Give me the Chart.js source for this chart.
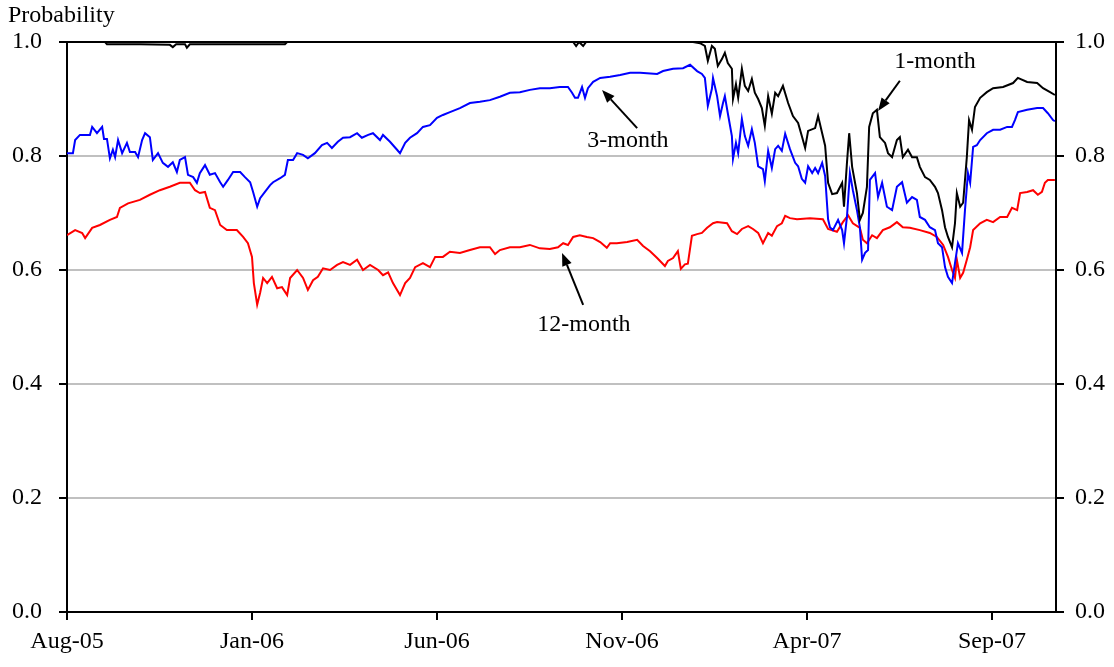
<!DOCTYPE html>
<html>
<head>
<meta charset="utf-8">
<script src="https://cdn.jsdelivr.net/npm/chart.js@4.4.1/dist/chart.umd.min.js"></script>
<style>
html, body { margin: 0; padding: 0; background: #fff; }
canvas { display: block; }
</style>
</head>
<body>
<canvas id="c" width="1114" height="667"></canvas>
<script>
// x values are months since the start of Aug 2005
const tickMonths = [0, 5, 10, 15, 20, 25];
const tickLabels = ['Aug-05', 'Jan-06', 'Jun-06', 'Nov-06', 'Apr-07', 'Sep-07'];

// 1-month
const months1 = [0, 1.03, 1.08, 1.97, 2.78, 2.86, 2.95, 3.19, 3.24, 3.32, 4.41, 5.89, 5.95, 13.68, 13.76, 13.84, 13.95, 14.03, 16.92, 17.11,
    17.24, 17.32, 17.43, 17.51, 17.59, 17.70, 17.78, 17.86, 17.97, 18.00, 18.08, 18.14, 18.24, 18.32, 18.41, 18.51, 18.59, 18.68, 18.78, 18.86,
    18.95, 19.05, 19.14, 19.22, 19.35, 19.49, 19.62, 19.76, 19.86, 19.95, 20.03, 20.22, 20.30, 20.41, 20.49, 20.57, 20.68, 20.81, 20.95, 21.00,
    21.08, 21.14, 21.22, 21.35, 21.43, 21.51, 21.62, 21.68, 21.78, 21.89, 21.97, 22.11, 22.19, 22.30, 22.43, 22.51, 22.59, 22.73, 22.84, 22.97,
    23.05, 23.19, 23.32, 23.46, 23.54, 23.65, 23.73, 23.81, 23.92, 24.00, 24.05, 24.14, 24.22, 24.32, 24.38, 24.46, 24.54, 24.68, 24.86, 25.03,
    25.30, 25.57, 25.70, 25.95, 26.22, 26.38, 26.57, 26.70];
const prob1 = [1, 1, 0.996, 0.996, 0.995, 0.991, 0.996, 0.996, 0.990, 0.996, 0.996, 0.996, 1, 1, 0.993, 1, 0.993, 1, 1, 0.998,
    0.993, 0.967, 0.993, 0.988, 0.958, 0.970, 0.981, 0.963, 0.953, 0.900, 0.926, 0.902, 0.953, 0.923, 0.914, 0.935, 0.911, 0.900, 0.884, 0.853,
    0.905, 0.874, 0.911, 0.905, 0.923, 0.893, 0.870, 0.858, 0.835, 0.814, 0.844, 0.849, 0.870, 0.840, 0.818, 0.753, 0.733, 0.735, 0.753, 0.711,
    0.788, 0.840, 0.781, 0.735, 0.688, 0.700, 0.746, 0.851, 0.875, 0.881, 0.833, 0.823, 0.805, 0.798, 0.828, 0.833, 0.798, 0.811, 0.798, 0.798,
    0.781, 0.763, 0.758, 0.746, 0.735, 0.705, 0.675, 0.658, 0.640, 0.682, 0.735, 0.711, 0.718, 0.798, 0.863, 0.846, 0.886, 0.902, 0.912, 0.919,
    0.921, 0.928, 0.937, 0.930, 0.928, 0.919, 0.912, 0.907];

// 3-month
const months3 = [0, 0.16, 0.22, 0.35, 0.62, 0.68, 0.81, 0.95, 1.00, 1.08, 1.16, 1.24, 1.30, 1.38, 1.49, 1.62, 1.70, 1.84, 1.92, 2.03,
    2.11, 2.24, 2.32, 2.46, 2.59, 2.73, 2.86, 2.97, 3.05, 3.19, 3.27, 3.41, 3.51, 3.59, 3.73, 3.86, 4.00, 4.14, 4.22, 4.35,
    4.49, 4.68, 4.81, 4.95, 5.03, 5.14, 5.22, 5.35, 5.49, 5.57, 5.76, 5.89, 5.97, 6.11, 6.22, 6.38, 6.51, 6.70, 6.89, 7.03,
    7.16, 7.32, 7.46, 7.65, 7.84, 7.97, 8.14, 8.27, 8.46, 8.54, 8.73, 8.92, 9.00, 9.14, 9.27, 9.46, 9.62, 9.81, 10.00, 10.16,
    10.35, 10.62, 10.89, 11.16, 11.43, 11.70, 11.97, 12.24, 12.51, 12.78, 13.05, 13.32, 13.54, 13.65, 13.73, 13.81, 13.92, 14.00, 14.08, 14.22,
    14.41, 14.68, 14.95, 15.22, 15.49, 15.95, 16.11, 16.38, 16.65, 16.84, 17.03, 17.16, 17.24, 17.32, 17.43, 17.46, 17.57, 17.65, 17.73, 17.78,
    17.86, 17.97, 18.00, 18.08, 18.14, 18.24, 18.32, 18.41, 18.51, 18.59, 18.68, 18.81, 18.86, 18.95, 19.05, 19.14, 19.22, 19.32, 19.41, 19.54,
    19.68, 19.76, 19.86, 19.95, 20.03, 20.14, 20.22, 20.30, 20.41, 20.49, 20.57, 20.62, 20.70, 20.84, 20.95, 21.00, 21.08, 21.16, 21.24, 21.35,
    21.43, 21.49, 21.57, 21.65, 21.70, 21.84, 21.92, 22.03, 22.16, 22.30, 22.43, 22.57, 22.70, 22.84, 22.97, 23.05, 23.19, 23.32, 23.46, 23.54,
    23.65, 23.73, 23.81, 23.92, 24.00, 24.08, 24.19, 24.27, 24.35, 24.41, 24.49, 24.59, 24.68, 24.86, 25.03, 25.22, 25.41, 25.54, 25.62, 25.70,
    25.95, 26.22, 26.38, 26.51, 26.65, 26.70];
const prob3 = [0.805, 0.805, 0.828, 0.837, 0.837, 0.851, 0.840, 0.851, 0.830, 0.830, 0.796, 0.811, 0.798, 0.828, 0.805, 0.823, 0.807, 0.807, 0.798, 0.828,
    0.840, 0.833, 0.793, 0.805, 0.788, 0.781, 0.789, 0.772, 0.793, 0.798, 0.767, 0.763, 0.753, 0.770, 0.784, 0.767, 0.770, 0.754, 0.746, 0.758,
    0.772, 0.772, 0.763, 0.754, 0.737, 0.711, 0.726, 0.737, 0.749, 0.754, 0.761, 0.767, 0.793, 0.793, 0.805, 0.802, 0.796, 0.805, 0.819, 0.823,
    0.814, 0.825, 0.832, 0.833, 0.840, 0.832, 0.837, 0.840, 0.828, 0.837, 0.825, 0.811, 0.805, 0.823, 0.832, 0.840, 0.851, 0.854, 0.867, 0.872,
    0.877, 0.884, 0.893, 0.895, 0.898, 0.904, 0.911, 0.912, 0.916, 0.919, 0.919, 0.921, 0.921, 0.911, 0.902, 0.902, 0.921, 0.902, 0.919, 0.930,
    0.937, 0.939, 0.942, 0.946, 0.946, 0.944, 0.949, 0.953, 0.954, 0.960, 0.949, 0.944, 0.937, 0.888, 0.918, 0.937, 0.905, 0.870, 0.893, 0.905,
    0.875, 0.835, 0.795, 0.823, 0.805, 0.865, 0.835, 0.818, 0.847, 0.823, 0.782, 0.777, 0.756, 0.809, 0.779, 0.812, 0.818, 0.809, 0.839, 0.812,
    0.788, 0.782, 0.760, 0.753, 0.782, 0.770, 0.779, 0.770, 0.788, 0.765, 0.689, 0.675, 0.670, 0.688, 0.670, 0.647, 0.693, 0.770, 0.740, 0.705,
    0.675, 0.618, 0.630, 0.635, 0.758, 0.770, 0.728, 0.753, 0.711, 0.705, 0.746, 0.754, 0.718, 0.728, 0.723, 0.693, 0.688, 0.675, 0.670, 0.647,
    0.640, 0.605, 0.588, 0.577, 0.612, 0.647, 0.630, 0.705, 0.770, 0.753, 0.816, 0.819, 0.828, 0.840, 0.846, 0.846, 0.851, 0.851, 0.863, 0.877,
    0.881, 0.884, 0.884, 0.875, 0.863, 0.861];

// 12-month
const months12 = [0, 0.22, 0.41, 0.49, 0.68, 0.89, 1.16, 1.35, 1.43, 1.65, 1.97, 2.24, 2.51, 2.78, 3.05, 3.32, 3.46, 3.59, 3.73, 3.86,
    4.00, 4.14, 4.32, 4.59, 4.76, 4.89, 5.00, 5.05, 5.14, 5.22, 5.30, 5.41, 5.54, 5.68, 5.81, 5.95, 6.03, 6.22, 6.38, 6.51,
    6.65, 6.78, 6.92, 7.11, 7.30, 7.46, 7.65, 7.84, 8.00, 8.19, 8.41, 8.54, 8.68, 8.81, 9.00, 9.14, 9.27, 9.41, 9.62, 9.81,
    9.95, 10.16, 10.35, 10.62, 10.89, 11.16, 11.43, 11.57, 11.70, 11.97, 12.24, 12.51, 12.78, 13.05, 13.27, 13.41, 13.54, 13.68, 13.86, 14.05,
    14.22, 14.41, 14.59, 14.68, 14.86, 15.14, 15.41, 15.57, 15.76, 15.95, 16.16, 16.24, 16.38, 16.51, 16.59, 16.70, 16.78, 16.89, 17.03, 17.16,
    17.30, 17.46, 17.57, 17.84, 17.97, 18.11, 18.24, 18.41, 18.54, 18.68, 18.81, 18.95, 19.05, 19.19, 19.32, 19.41, 19.54, 19.73, 20.08, 20.43,
    20.57, 20.81, 20.97, 21.11, 21.24, 21.43, 21.51, 21.62, 21.76, 21.89, 22.05, 22.24, 22.43, 22.59, 22.78, 23.05, 23.32, 23.51, 23.68, 23.81,
    23.92, 24.00, 24.05, 24.14, 24.22, 24.32, 24.41, 24.49, 24.68, 24.86, 25.03, 25.22, 25.41, 25.54, 25.68, 25.76, 25.95, 26.11, 26.24, 26.35,
    26.43, 26.51, 26.70];
const prob12 = [0.661, 0.670, 0.665, 0.656, 0.674, 0.679, 0.688, 0.693, 0.709, 0.717, 0.723, 0.732, 0.740, 0.746, 0.753, 0.753, 0.740, 0.735, 0.737, 0.709,
    0.705, 0.679, 0.670, 0.670, 0.658, 0.647, 0.623, 0.577, 0.539, 0.560, 0.586, 0.577, 0.588, 0.568, 0.570, 0.556, 0.586, 0.600, 0.586, 0.565,
    0.582, 0.588, 0.603, 0.600, 0.609, 0.614, 0.609, 0.618, 0.600, 0.609, 0.600, 0.591, 0.596, 0.577, 0.556, 0.577, 0.586, 0.605, 0.612, 0.605,
    0.623, 0.623, 0.632, 0.630, 0.635, 0.640, 0.640, 0.628, 0.635, 0.640, 0.640, 0.644, 0.638, 0.637, 0.640, 0.647, 0.644, 0.658, 0.661, 0.658,
    0.656, 0.649, 0.639, 0.647, 0.647, 0.649, 0.653, 0.642, 0.633, 0.621, 0.607, 0.616, 0.621, 0.633, 0.602, 0.610, 0.611, 0.660, 0.663, 0.665,
    0.674, 0.682, 0.684, 0.682, 0.668, 0.663, 0.672, 0.677, 0.672, 0.665, 0.647, 0.665, 0.660, 0.677, 0.682, 0.695, 0.691, 0.689, 0.691, 0.689,
    0.672, 0.667, 0.684, 0.696, 0.682, 0.674, 0.653, 0.647, 0.661, 0.656, 0.670, 0.675, 0.684, 0.675, 0.674, 0.670, 0.665, 0.658, 0.644, 0.623,
    0.600, 0.586, 0.618, 0.586, 0.595, 0.618, 0.640, 0.670, 0.682, 0.688, 0.684, 0.693, 0.693, 0.709, 0.705, 0.735, 0.737, 0.740, 0.732, 0.737,
    0.753, 0.758, 0.758];

// labels with arrows, in data units: text centre, arrow start, arrow tip
const notes = [
    { text: '1-month', at: [23.46, 0.966], from: [22.51, 0.932], to: [21.92, 0.879] },
    { text: '3-month', at: [15.16, 0.826], from: [15.41, 0.849], to: [14.46, 0.916] },
    { text: '12-month', at: [13.97, 0.504], from: [13.95, 0.539], to: [13.38, 0.630] }
];

const FONT = 'Liberation Serif, Times New Roman, serif';
const tickFont = { family: FONT, size: 24 };

function series(xs, ys) {
    return xs.map((x, i) => ({ x: x, y: ys[i] }));
}

const notesPlugin = {
    id: 'notes',
    afterDatasetsDraw(chart) {
        const ctx = chart.ctx;
        const sx = chart.scales.x, sy = chart.scales.y;
        ctx.save();
        ctx.fillStyle = '#000';
        ctx.strokeStyle = '#000';
        ctx.font = '24px ' + FONT;
        ctx.textAlign = 'center';
        ctx.textBaseline = 'middle';
        notes.forEach(n => {
            ctx.fillText(n.text, sx.getPixelForValue(n.at[0]), sy.getPixelForValue(n.at[1]));
            const x0 = sx.getPixelForValue(n.from[0]), y0 = sy.getPixelForValue(n.from[1]);
            const x1 = sx.getPixelForValue(n.to[0]), y1 = sy.getPixelForValue(n.to[1]);
            const a = Math.atan2(y1 - y0, x1 - x0);
            const len = 13, w = 5;
            const bx = x1 - len * Math.cos(a), by = y1 - len * Math.sin(a);
            ctx.lineWidth = 2;
            ctx.beginPath();
            ctx.moveTo(x0, y0);
            ctx.lineTo(bx, by);
            ctx.stroke();
            ctx.beginPath();
            ctx.moveTo(x1, y1);
            ctx.lineTo(bx + w * Math.sin(a), by - w * Math.cos(a));
            ctx.lineTo(bx - w * Math.sin(a), by + w * Math.cos(a));
            ctx.closePath();
            ctx.fill();
        });
        // axis caption above the left scale
        ctx.textAlign = 'left';
        ctx.textBaseline = 'alphabetic';
        ctx.fillText('Probability', 8, 22);
        ctx.restore();
    }
};

const yGrid = {
    color: c => (c.tick && (c.tick.value > 0.999 || c.tick.value < 0.001)) ? '#000' : '#c0c0c0',
    lineWidth: 2,
    tickColor: '#000',
    tickLength: 8
};

new Chart(document.getElementById('c'), {
    type: 'line',
    data: {
        datasets: [
            { label: '1-month', data: series(months1, prob1), borderColor: '#000000', borderWidth: 2 },
            { label: '3-month', data: series(months3, prob3), borderColor: '#0000ff', borderWidth: 2 },
            { label: '12-month', data: series(months12, prob12), borderColor: '#ff0000', borderWidth: 2 }
        ]
    },
    options: {
        responsive: false,
        animation: false,
        devicePixelRatio: 1,
        elements: { point: { radius: 0 }, line: { tension: 0 } },
        layout: { padding: { top: 42, left: 0, right: 0, bottom: 0 } },
        plugins: { legend: { display: false }, tooltip: { enabled: false } },
        scales: {
            x: {
                type: 'linear',
                min: 0,
                max: 26.73,
                afterBuildTicks: s => { s.ticks = tickMonths.map(v => ({ value: v })); },
                afterFit: s => { s.height = 55; },
                grid: { drawOnChartArea: false, color: '#000', lineWidth: 2, tickLength: 8 },
                border: { color: '#000', width: 2 },
                ticks: {
                    callback: (v, i) => tickLabels[i],
                    font: tickFont,
                    color: '#000',
                    padding: 7,
                    maxRotation: 0,
                    autoSkip: false
                }
            },
            y: {
                position: 'left',
                min: 0,
                max: 1,
                afterFit: s => { s.width = 67; },
                grid: yGrid,
                border: { color: '#000', width: 2 },
                ticks: { stepSize: 0.2, callback: v => v.toFixed(1), font: tickFont, color: '#000', padding: 17 }
            },
            y2: {
                position: 'right',
                min: 0,
                max: 1,
                afterFit: s => { s.width = 58; },
                grid: { drawOnChartArea: false, color: '#000', lineWidth: 2, tickLength: 8 },
                border: { color: '#000', width: 2 },
                ticks: { stepSize: 0.2, callback: v => v.toFixed(1), font: tickFont, color: '#000', padding: 11 }
            }
        }
    },
    plugins: [notesPlugin]
});
</script>
</body>
</html>
